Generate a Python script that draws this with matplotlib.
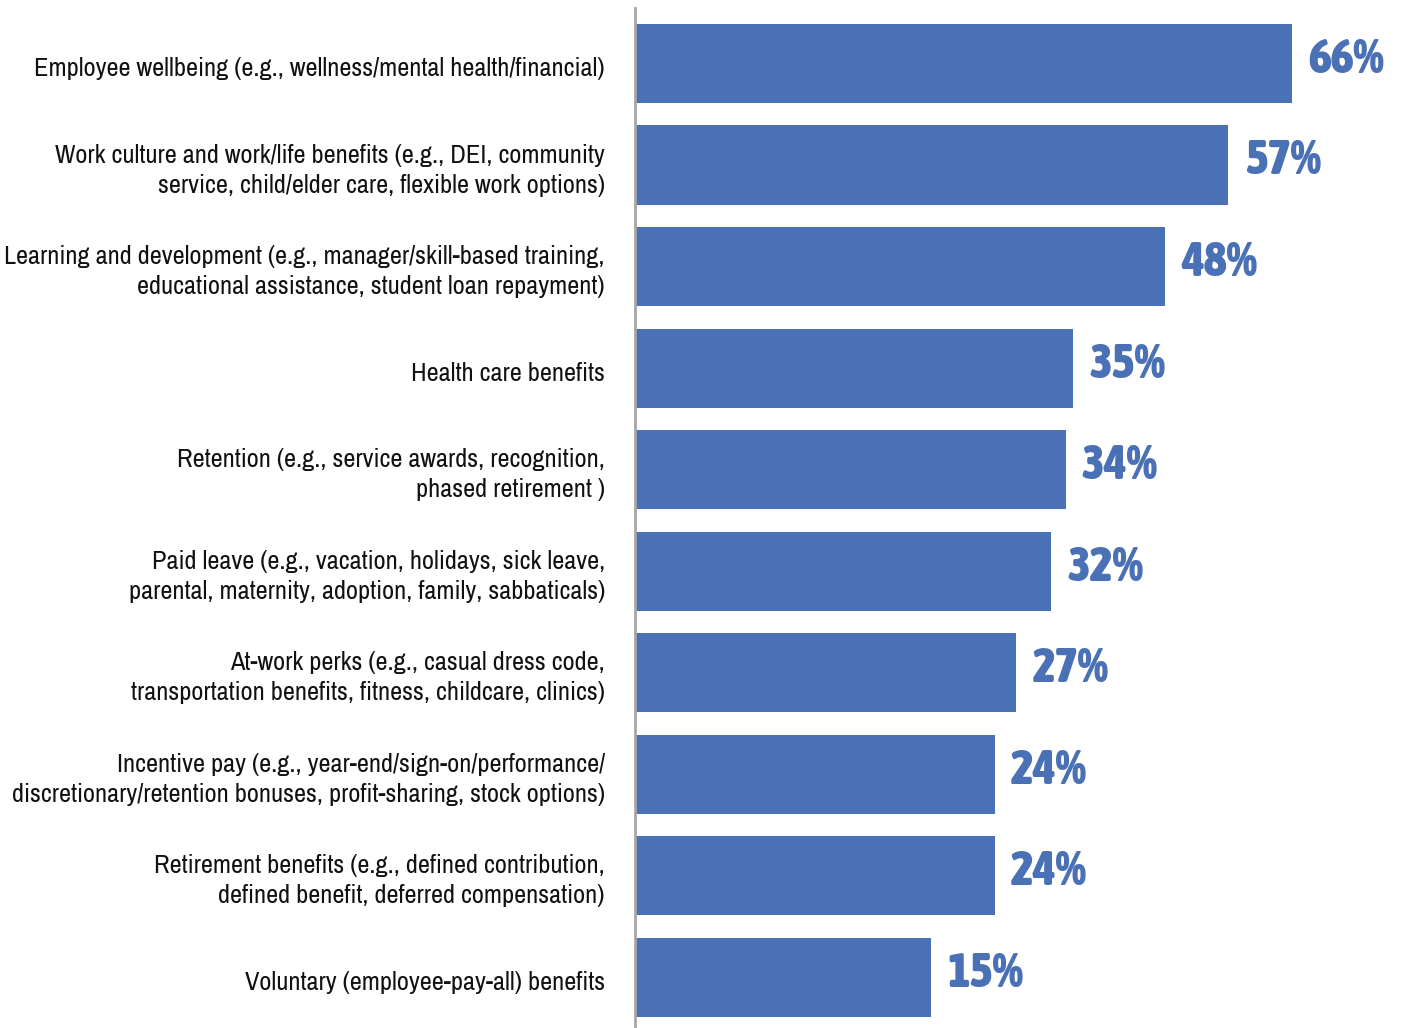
import matplotlib
matplotlib.use("Agg")
import matplotlib.pyplot as plt
import matplotlib.transforms as mtransforms
from matplotlib import font_manager
from matplotlib.font_manager import FontProperties

categories = [
    "Employee wellbeing (e.g., wellness/mental health/financial)",
    "Work culture and work/life benefits (e.g., DEI, community\nservice, child/elder care, flexible work options)",
    "Learning and development (e.g., manager/skill-based training,\neducational assistance, student loan repayment)",
    "Health care benefits",
    "Retention (e.g., service awards, recognition,\nphased retirement )",
    "Paid leave (e.g., vacation, holidays, sick leave,\nparental, maternity, adoption, family, sabbaticals)",
    "At-work perks (e.g., casual dress code,\ntransportation benefits, fitness, childcare, clinics)",
    "Incentive pay (e.g., year-end/sign-on/performance/\ndiscretionary/retention bonuses, profit-sharing, stock options)",
    "Retirement benefits (e.g., defined contribution,\ndefined benefit, deferred compensation)",
    "Voluntary (employee-pay-all) benefits",
]
values = [66, 57, 48, 35, 34, 32, 27, 24, 24, 15]

BAR_COLOR = "#4A70B5"


def weight_num(w):
    if isinstance(w, int):
        return w
    return font_manager.weight_dict.get(w, 400)


# narrow / condensed faces, if any are installed
ttf = font_manager.fontManager.ttflist
narrow = [f for f in ttf
          if ("Narrow" in f.name or "Condensed" in f.name) and f.style == "normal"]
names = sorted({f.name for f in narrow})

if names:
    label_fp = FontProperties(family=[names[0], "DejaVu Sans"], size=19)
else:
    label_fp = FontProperties(family="Roboto", size=15.7)

heavy = [f for f in narrow if weight_num(f.weight) >= 600]
if heavy:
    bold = max(heavy, key=lambda f: weight_num(f.weight))
    value_fp = FontProperties(fname=bold.fname, size=35)
else:
    value_fp = FontProperties(family="Roboto", weight="bold", size=33)

fig = plt.figure(figsize=(14.11, 10.28), dpi=100)
ax = fig.add_axes([636 / 1411, 0, 1 - 636 / 1411, 1 - 8 / 1028])

# the value axis in the source does not start at zero
base = -26.7
ypos = list(range(len(values)))
ax.barh(ypos, [v - base for v in values], left=base, height=0.78,
        color=BAR_COLOR, zorder=2)

for y, v in zip(ypos, values):
    ax.text(v + 2.3, y - 0.04, f"{v}%", va="center", ha="left",
            fontproperties=value_fp, color=BAR_COLOR)

# category labels drawn as text left of the axis line
trans = mtransforms.blended_transform_factory(ax.transAxes, ax.transData)
for y, lab in zip(ypos, categories):
    ax.text(-0.04, y + 0.05, lab, transform=trans, ha="right", va="center",
            multialignment="right", linespacing=1.38,
            fontproperties=label_fp, color="#111111", clip_on=False)

ax.set_xlim(base, 82.8)
ax.set_ylim(9.5, -0.547)
ax.set_yticks([])
ax.set_xticks([])

for s in ["top", "right", "bottom"]:
    ax.spines[s].set_visible(False)
ax.spines["left"].set_color("#A6A6A6")
ax.spines["left"].set_linewidth(2)
ax.spines["left"].set_position(("data", base - 0.2))

fig.savefig("out.png", dpi=100)
